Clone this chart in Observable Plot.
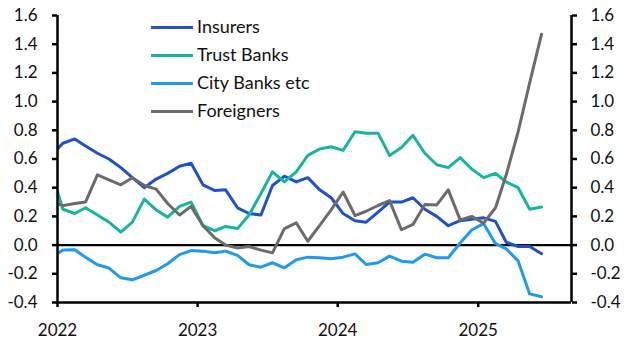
<!DOCTYPE html>
<html><head><meta charset="utf-8">
<script src="https://cdn.jsdelivr.net/npm/d3@7"></script>
<script src="https://cdn.jsdelivr.net/npm/@observablehq/plot@0.6"></script>
<style>
body{margin:0;background:#fff;}
#wrap{position:relative;width:632px;height:351px;font-family:Lato,sans-serif;}
.sw{position:absolute;height:3px;}
.lt{position:absolute;font-size:18px;line-height:20px;color:#111;white-space:nowrap;}
</style>
</head><body><div id="wrap"></div>
<script>
// Monthly observations, mid-month, Dec 2021 .. Jun 2025
const startMonth = "2021-12";
const endMonth = "2025-06";
const seriesNames = ["Insurers", "Trust Banks", "City Banks etc", "Foreigners"];
const seriesColors = ["#1f52c9", "#16b5a0", "#1f9af2", "#6b6b6b"];

const insurers = [0.625, 0.71, 0.74, 0.69, 0.64, 0.60, 0.54, 0.47, 0.40, 0.46, 0.50, 0.55, 0.57, 0.42, 0.38, 0.385, 0.26, 0.22, 0.21, 0.415, 0.48, 0.44, 0.47, 0.385, 0.33, 0.22, 0.17, 0.16, 0.23, 0.30, 0.30, 0.33, 0.25, 0.20, 0.135, 0.17, 0.18, 0.19, 0.165, 0.02, -0.01, -0.01, -0.06];
const trustBanks = [0.52, 0.25, 0.22, 0.26, 0.21, 0.16, 0.09, 0.16, 0.32, 0.245, 0.195, 0.27, 0.30, 0.135, 0.10, 0.13, 0.115, 0.21, 0.36, 0.51, 0.44, 0.51, 0.625, 0.67, 0.685, 0.66, 0.79, 0.78, 0.78, 0.625, 0.68, 0.765, 0.64, 0.56, 0.54, 0.61, 0.53, 0.47, 0.50, 0.44, 0.40, 0.25, 0.265];
const cityBanks = [-0.085, -0.035, -0.033, -0.085, -0.137, -0.16, -0.228, -0.242, -0.21, -0.177, -0.13, -0.066, -0.038, -0.042, -0.054, -0.042, -0.072, -0.137, -0.154, -0.123, -0.158, -0.102, -0.084, -0.088, -0.095, -0.084, -0.061, -0.135, -0.123, -0.077, -0.112, -0.119, -0.063, -0.088, -0.088, 0.015, 0.105, 0.15, 0.01, -0.026, -0.11, -0.34, -0.36];
const foreigners = [0.305, 0.275, 0.29, 0.30, 0.49, 0.455, 0.42, 0.47, 0.415, 0.39, 0.29, 0.21, 0.27, 0.135, 0.05, 0.0, -0.02, -0.01, -0.035, -0.054, 0.115, 0.155, 0.027, 0.137, 0.246, 0.37, 0.206, 0.236, 0.276, 0.31, 0.107, 0.144, 0.283, 0.28, 0.385, 0.176, 0.20, 0.153, 0.26, 0.49, 0.79, 1.13, 1.47];

const yTicks = [-0.4, -0.2, 0.0, 0.2, 0.4, 0.6, 0.8, 1.0, 1.2, 1.4, 1.6];
const xTickYears = ["2022", "2023", "2024", "2025"];
const xDomain = ["2022-01-01", "2025-09-01"];
const yDomain = [-0.4, 1.6];

const months = d3.utcMonth.range(new Date(startMonth + "-01"), d3.utcMonth.offset(new Date(endMonth + "-01"), 1))
  .map(d => new Date(Date.UTC(d.getUTCFullYear(), d.getUTCMonth(), 15)));
const allValues = [insurers, trustBanks, cityBanks, foreigners];
const rows = [];
allValues.forEach((vals, s) => vals.forEach((v, i) => rows.push({date: months[i], value: v, series: seriesNames[s]})));

const x0 = new Date(xDomain[0]), x1 = new Date(xDomain[1]);

const chart = Plot.plot({
  width: 632, height: 351,
  marginLeft: 57, marginRight: 61, marginTop: 15, marginBottom: 49,
  style: {fontFamily: "Lato, sans-serif", fontSize: "17px", color: "#111", background: "#fff"},
  x: {type: "utc", domain: [x0, x1]},
  y: {domain: yDomain},
  color: {domain: seriesNames, range: seriesColors},
  marks: [
    Plot.ruleY([0], {stroke: "#000", strokeWidth: 2.3}),
    ...seriesNames.map(name => Plot.lineY(rows.filter(r => r.series === name), {
      x: "date", y: "value", stroke: seriesColors[seriesNames.indexOf(name)], strokeWidth: 3, clip: true
    })),
    Plot.ruleX([x0], {stroke: "#000", strokeWidth: 2.5}),
    Plot.ruleX([x1], {stroke: "#000", strokeWidth: 2.5}),
    Plot.ruleY([yDomain[0]], {stroke: "#000", strokeWidth: 2.5}),
    Plot.axisY({anchor: "left", ticks: yTicks, tickSize: 5, tickPadding: 15, strokeWidth: 2.5, stroke: "#000",
      tickFormat: d => d.toFixed(1), label: null}),
    Plot.axisY({anchor: "right", ticks: yTicks, tickSize: 5, tickPadding: 14, strokeWidth: 2.5, stroke: "#000",
      tickFormat: d => d.toFixed(1), label: null}),
    Plot.axisX({ticks: xTickYears.map(y => new Date(y + "-01-01")), tickSize: 5, tickPadding: 16, strokeWidth: 2.5, stroke: "#000",
      tickFormat: d3.utcFormat("%Y"), label: null})
  ]
});

const wrap = document.getElementById("wrap");
wrap.appendChild(chart);
const legendY = [27.3, 55.3, 83.3, 111.3];
seriesNames.forEach((name, i) => {
  const sw = document.createElement("div");
  sw.className = "sw";
  sw.style.left = "151px"; sw.style.width = "42px";
  sw.style.top = (legendY[i] - 1.5) + "px";
  sw.style.background = seriesColors[i];
  wrap.appendChild(sw);
  const t = document.createElement("div");
  t.className = "lt";
  t.style.left = "197px";
  t.style.top = (legendY[i] - 11) + "px";
  t.textContent = name;
  wrap.appendChild(t);
});
</script></body></html>
